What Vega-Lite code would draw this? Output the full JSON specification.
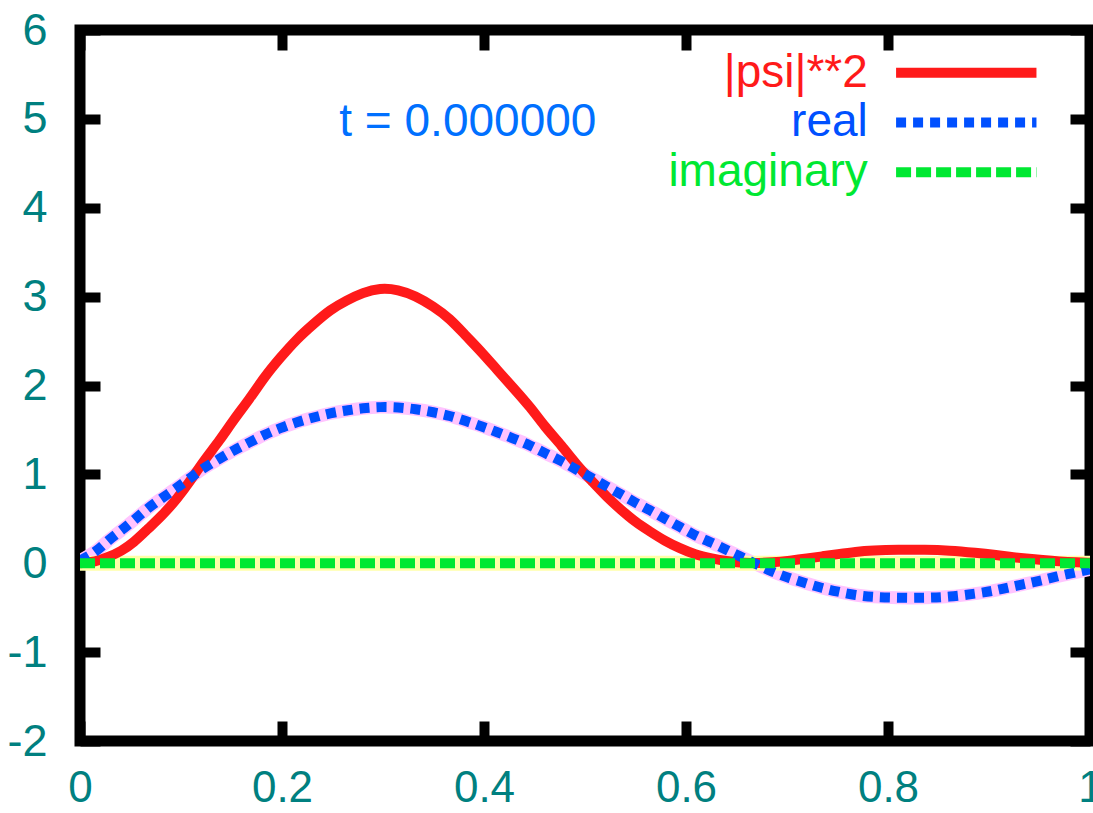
{
  "$schema": "https://vega.github.io/schema/vega-lite/v6.json",
  "width": 1010,
  "height": 711,
  "autosize": {"type": "none"},
  "padding": {"left": 80, "top": 30, "right": 3, "bottom": 72},
  "background": "#ffffff",
  "config": {
    "view": {"stroke": "#000000", "strokeWidth": 11},
    "font": "Liberation Sans"
  },
  "datasets": {
    "real": [
      {"x": 0.0, "y": 0.03}, {"x": 0.015, "y": 0.12}, {"x": 0.028, "y": 0.26}, {"x": 0.041, "y": 0.37},
      {"x": 0.053, "y": 0.48}, {"x": 0.067, "y": 0.62}, {"x": 0.081, "y": 0.73}, {"x": 0.096, "y": 0.85},
      {"x": 0.109, "y": 0.96}, {"x": 0.122, "y": 1.07}, {"x": 0.139, "y": 1.18}, {"x": 0.152, "y": 1.27},
      {"x": 0.168, "y": 1.36}, {"x": 0.183, "y": 1.45}, {"x": 0.198, "y": 1.52}, {"x": 0.215, "y": 1.59},
      {"x": 0.231, "y": 1.64}, {"x": 0.248, "y": 1.69}, {"x": 0.264, "y": 1.72}, {"x": 0.28, "y": 1.745},
      {"x": 0.297, "y": 1.76}, {"x": 0.315, "y": 1.755}, {"x": 0.332, "y": 1.735}, {"x": 0.35, "y": 1.7},
      {"x": 0.366, "y": 1.66}, {"x": 0.382, "y": 1.6}, {"x": 0.398, "y": 1.54}, {"x": 0.413, "y": 1.475},
      {"x": 0.429, "y": 1.405}, {"x": 0.446, "y": 1.325}, {"x": 0.46, "y": 1.24}, {"x": 0.477, "y": 1.15},
      {"x": 0.492, "y": 1.05}, {"x": 0.507, "y": 0.96}, {"x": 0.522, "y": 0.86}, {"x": 0.535, "y": 0.78},
      {"x": 0.55, "y": 0.68}, {"x": 0.564, "y": 0.6}, {"x": 0.579, "y": 0.5}, {"x": 0.594, "y": 0.41},
      {"x": 0.609, "y": 0.31}, {"x": 0.626, "y": 0.23}, {"x": 0.64, "y": 0.15}, {"x": 0.653, "y": 0.08},
      {"x": 0.666, "y": 0.01}, {"x": 0.686, "y": -0.1}, {"x": 0.703, "y": -0.17}, {"x": 0.72, "y": -0.23},
      {"x": 0.735, "y": -0.28}, {"x": 0.75, "y": -0.32}, {"x": 0.768, "y": -0.36}, {"x": 0.785, "y": -0.38},
      {"x": 0.81, "y": -0.39}, {"x": 0.837, "y": -0.39}, {"x": 0.86, "y": -0.38}, {"x": 0.888, "y": -0.34},
      {"x": 0.905, "y": -0.31}, {"x": 0.92, "y": -0.27}, {"x": 0.937, "y": -0.23}, {"x": 0.953, "y": -0.19},
      {"x": 0.97, "y": -0.14}, {"x": 0.987, "y": -0.1}, {"x": 1.0, "y": -0.07}
    ],
    "psi2": [
      {"x": 0.0, "y": 0.001}, {"x": 0.015, "y": 0.014}, {"x": 0.028, "y": 0.068}, {"x": 0.041, "y": 0.137},
      {"x": 0.053, "y": 0.23}, {"x": 0.067, "y": 0.384}, {"x": 0.081, "y": 0.533}, {"x": 0.096, "y": 0.723},
      {"x": 0.109, "y": 0.922}, {"x": 0.122, "y": 1.145}, {"x": 0.139, "y": 1.392}, {"x": 0.152, "y": 1.613},
      {"x": 0.168, "y": 1.85}, {"x": 0.183, "y": 2.103}, {"x": 0.198, "y": 2.31}, {"x": 0.215, "y": 2.528},
      {"x": 0.231, "y": 2.69}, {"x": 0.248, "y": 2.856}, {"x": 0.264, "y": 2.958}, {"x": 0.28, "y": 3.045},
      {"x": 0.297, "y": 3.098}, {"x": 0.315, "y": 3.08}, {"x": 0.332, "y": 3.01}, {"x": 0.35, "y": 2.89},
      {"x": 0.366, "y": 2.756}, {"x": 0.382, "y": 2.56}, {"x": 0.398, "y": 2.372}, {"x": 0.413, "y": 2.176},
      {"x": 0.429, "y": 1.974}, {"x": 0.446, "y": 1.756}, {"x": 0.46, "y": 1.538}, {"x": 0.477, "y": 1.323},
      {"x": 0.492, "y": 1.103}, {"x": 0.507, "y": 0.922}, {"x": 0.522, "y": 0.74}, {"x": 0.535, "y": 0.608},
      {"x": 0.55, "y": 0.462}, {"x": 0.564, "y": 0.36}, {"x": 0.579, "y": 0.25}, {"x": 0.594, "y": 0.168},
      {"x": 0.609, "y": 0.096}, {"x": 0.626, "y": 0.053}, {"x": 0.64, "y": 0.023}, {"x": 0.653, "y": 0.006},
      {"x": 0.666, "y": 0.0}, {"x": 0.686, "y": 0.01}, {"x": 0.703, "y": 0.029}, {"x": 0.72, "y": 0.053},
      {"x": 0.735, "y": 0.078}, {"x": 0.75, "y": 0.102}, {"x": 0.768, "y": 0.13}, {"x": 0.785, "y": 0.144},
      {"x": 0.81, "y": 0.152}, {"x": 0.837, "y": 0.152}, {"x": 0.86, "y": 0.144}, {"x": 0.888, "y": 0.116},
      {"x": 0.905, "y": 0.096}, {"x": 0.92, "y": 0.073}, {"x": 0.937, "y": 0.053}, {"x": 0.953, "y": 0.036},
      {"x": 0.97, "y": 0.02}, {"x": 0.987, "y": 0.01}, {"x": 1.0, "y": 0.005}
    ],
    "imag": [{"x": 0.0, "y": 0.0}, {"x": 1.0, "y": 0.0}],
    "key": [
      {"series": "|psi|**2", "x1": 0.808, "x2": 0.947, "y": 5.52},
      {"series": "real", "x1": 0.808, "x2": 0.947, "y": 4.96},
      {"series": "imaginary", "x1": 0.808, "x2": 0.947, "y": 4.4}
    ],
    "labels": [
      {"series": "|psi|**2", "text": "|psi|**2", "x": 0.78, "y": 5.52},
      {"series": "real", "text": "real", "x": 0.78, "y": 4.96},
      {"series": "imaginary", "text": "imaginary", "x": 0.78, "y": 4.4}
    ],
    "tlabel": [{"text": "t = 0.000000", "x": 0.384, "y": 4.96}]
  },
  "resolve": {"axis": {"x": "independent", "y": "independent"}},
  "layer": [
    {
      "data": {"name": "real"},
      "mark": {"type": "line", "color": "#ffc4ff", "strokeWidth": 13, "interpolate": "basis", "clip": true},
      "encoding": {
        "x": {"field": "x", "type": "quantitative", "scale": {"domain": [0, 1], "nice": false, "zero": false},
          "axis": {"orient": "bottom", "values": [0, 0.2, 0.4, 0.6, 0.8, 1], "domain": false, "grid": false, "title": null,
            "ticks": true, "tickSize": -20, "tickWidth": 10, "tickColor": "#000000",
            "labelFont": "Liberation Sans", "labelFontSize": 44, "labelColor": "#008080", "labelPadding": 45,
            "labelFlush": false, "labelOverlap": false, "labelBound": false, "labelExpr": "'' + datum.value"}},
        "y": {"field": "y", "type": "quantitative", "scale": {"domain": [-2, 6], "nice": false, "zero": false},
          "axis": {"orient": "left", "values": [-2, -1, 0, 1, 2, 3, 4, 5, 6], "domain": false, "grid": false, "title": null,
            "ticks": true, "tickSize": -20, "tickWidth": 10, "tickColor": "#000000",
            "labelFont": "Liberation Sans", "labelFontSize": 45, "labelColor": "#008080", "labelPadding": 53,
            "labelFlush": false, "labelOverlap": false, "labelBound": false, "labelExpr": "'' + datum.value"}}
      }
    },
    {
      "data": {"name": "imag"},
      "mark": {"type": "line", "color": "#ffffa8", "strokeWidth": 15, "clip": true},
      "encoding": {
        "x": {"field": "x", "type": "quantitative",
          "axis": {"orient": "top", "values": [0, 0.2, 0.4, 0.6, 0.8, 1], "domain": false, "grid": false, "title": null,
            "labels": false, "ticks": true, "tickSize": -20, "tickWidth": 10, "tickColor": "#000000"}},
        "y": {"field": "y", "type": "quantitative",
          "axis": {"orient": "right", "values": [-2, -1, 0, 1, 2, 3, 4, 5, 6], "domain": false, "grid": false, "title": null,
            "labels": false, "ticks": true, "tickSize": -20, "tickWidth": 10, "tickColor": "#000000"}}
      }
    },
    {
      "data": {"name": "psi2"},
      "mark": {"type": "line", "color": "#ff1a1a", "strokeWidth": 10, "interpolate": "basis", "clip": true},
      "encoding": {
        "x": {"field": "x", "type": "quantitative", "axis": null},
        "y": {"field": "y", "type": "quantitative", "axis": null}
      }
    },
    {
      "data": {"name": "real"},
      "mark": {"type": "line", "color": "#0050ff", "strokeWidth": 10, "strokeDash": [10, 7], "interpolate": "basis", "clip": true},
      "encoding": {
        "x": {"field": "x", "type": "quantitative", "axis": null},
        "y": {"field": "y", "type": "quantitative", "axis": null}
      }
    },
    {
      "data": {"name": "imag"},
      "mark": {"type": "line", "color": "#00e832", "strokeWidth": 10, "strokeDash": [15, 5], "clip": true},
      "encoding": {
        "x": {"field": "x", "type": "quantitative", "axis": null},
        "y": {"field": "y", "type": "quantitative", "axis": null}
      }
    },
    {
      "data": {"name": "key"},
      "mark": {"type": "rule", "strokeWidth": 10},
      "encoding": {
        "x": {"field": "x1", "type": "quantitative", "axis": null},
        "x2": {"field": "x2"},
        "y": {"field": "y", "type": "quantitative", "axis": null},
        "color": {"field": "series", "type": "nominal", "legend": null,
          "scale": {"domain": ["|psi|**2", "real", "imaginary"], "range": ["#ff1a1a", "#0050ff", "#00e832"]}},
        "strokeDash": {"field": "series", "type": "nominal", "legend": null,
          "scale": {"domain": ["|psi|**2", "real", "imaginary"], "range": [[1, 0], [10, 7], [15, 5]]}}
      }
    },
    {
      "data": {"name": "labels"},
      "mark": {"type": "text", "align": "right", "baseline": "middle", "font": "Liberation Sans", "fontSize": 46},
      "encoding": {
        "x": {"field": "x", "type": "quantitative", "axis": null},
        "y": {"field": "y", "type": "quantitative", "axis": null},
        "text": {"field": "text"},
        "color": {"field": "series", "type": "nominal", "legend": null}
      }
    },
    {
      "data": {"name": "tlabel"},
      "mark": {"type": "text", "align": "center", "baseline": "middle", "font": "Liberation Sans", "fontSize": 46, "color": "#0070ff"},
      "encoding": {
        "x": {"field": "x", "type": "quantitative", "axis": null},
        "y": {"field": "y", "type": "quantitative", "axis": null},
        "text": {"field": "text"}
      }
    }
  ]
}
